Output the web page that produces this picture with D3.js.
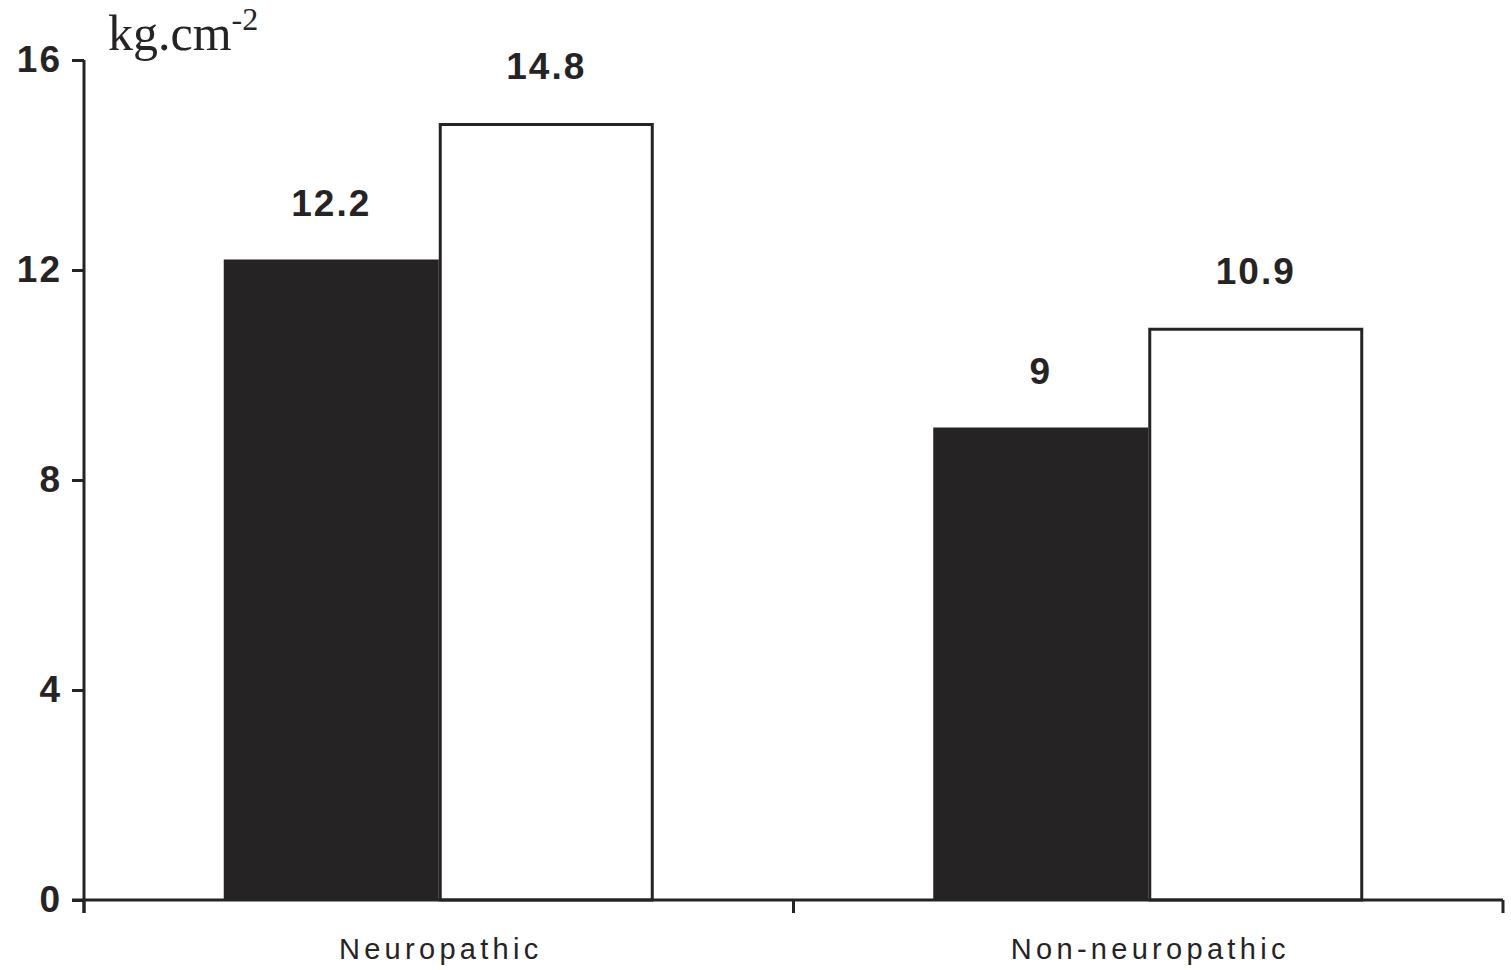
<!DOCTYPE html>
<html>
<head>
<meta charset="utf-8">
<script src="https://cdn.jsdelivr.net/npm/d3@7"></script>
<style>
  html, body { margin: 0; padding: 0; background: #fff; }
  svg { display: block; }
</style>
</head>
<body>
<svg id="chart" width="1511" height="970"></svg>
<script>
const categories = ["Neuropathic", "Non-neuropathic"];
const series = ["black", "white"];
const blackValues = [12.2, 9];
const whiteValues = [14.8, 10.9];
const yTicks = [0, 4, 8, 12, 16];
const unitLabel = "kg.cm";
const unitExp = "-2";

const svg = d3.select("#chart");
const ink = "#262324";

const y = d3.scaleLinear().domain([0, 16]).range([900, 60]);
const x0 = d3.scaleBand().domain(categories).range([84, 1503]).padding(0);
const x1 = d3.scaleBand().domain(series).range([0, x0.bandwidth()]).paddingInner(0).paddingOuter(0.65);

const data = categories.map((c, i) => ({
  cat: c,
  vals: [{s: "black", v: blackValues[i]}, {s: "white", v: whiteValues[i]}]
}));

// Bars
const g = svg.append("g");
const groups = g.selectAll("g.grp").data(data).join("g")
  .attr("transform", d => `translate(${x0(d.cat)},0)`);

groups.selectAll("rect").data(d => d.vals).join("rect")
  .attr("x", d => x1(d.s) + (d.s === "white" ? 1.5 : 0))
  .attr("y", d => y(d.v) + (d.s === "white" ? 1.5 : 0))
  .attr("width", d => x1.bandwidth() - (d.s === "white" ? 3 : 0))
  .attr("height", d => y(0) - y(d.v) - (d.s === "white" ? 1.5 : 0))
  .attr("fill", d => d.s === "black" ? ink : "#fff")
  .attr("stroke", d => d.s === "white" ? ink : "none")
  .attr("stroke-width", 3);

groups.selectAll("text.val").data(d => d.vals).join("text")
  .attr("class", "val")
  .attr("x", d => x1(d.s) + x1.bandwidth() / 2)
  .attr("y", d => y(d.v) - 44)
  .attr("text-anchor", "middle")
  .attr("font-family", "Liberation Sans, Arial, sans-serif")
  .attr("font-weight", "bold")
  .attr("font-size", 37)
  .attr("letter-spacing", 2)
  .attr("fill", ink)
  .text(d => d.v);

// Y axis
const yAxis = d3.axisLeft(y).tickValues(yTicks).tickSize(12).tickPadding(10).tickFormat(d3.format("d"));
const ya = svg.append("g").attr("transform", "translate(84,0)").call(yAxis);
ya.select(".domain").attr("d", "M0,60V913").attr("stroke", ink).attr("stroke-width", 3);
ya.selectAll(".tick line").attr("stroke", ink).attr("stroke-width", 3);
ya.selectAll(".tick text")
  .attr("font-family", "Liberation Sans, Arial, sans-serif")
  .attr("font-weight", "bold")
  .attr("font-size", 37)
  .attr("letter-spacing", 2)
  .attr("fill", ink);

// X axis
const xa = svg.append("g").attr("transform", "translate(0,900)");
xa.append("line").attr("x1", 72).attr("x2", 1503).attr("y1", 0).attr("y2", 0)
  .attr("stroke", ink).attr("stroke-width", 3);
const xTickPos = [x0.range()[0]].concat(categories.map(c => x0(c) + x0.bandwidth()));
xa.selectAll("line.xt").data(xTickPos).join("line")
  .attr("class", "xt")
  .attr("x1", d => d).attr("x2", d => d)
  .attr("y1", 0).attr("y2", 13)
  .attr("stroke", ink).attr("stroke-width", 3);
xa.selectAll("text.cat").data(categories).join("text")
  .attr("class", "cat")
  .attr("x", d => x0(d) + x0.bandwidth() / 2 + 2)
  .attr("y", 59)
  .attr("text-anchor", "middle")
  .attr("font-family", "Liberation Sans, Arial, sans-serif")
  .attr("font-size", 29)
  .attr("letter-spacing", 4.3)
  .attr("fill", ink)
  .text(d => d);

// Unit label
const ut = svg.append("text")
  .attr("x", 108).attr("y", 50)
  .attr("font-family", "Liberation Serif, Times New Roman, serif")
  .attr("font-size", 50)
  .attr("fill", ink);
ut.append("tspan").text(unitLabel);
ut.append("tspan").attr("dy", -20).attr("font-size", 32).text(unitExp);
</script>
</body>
</html>
